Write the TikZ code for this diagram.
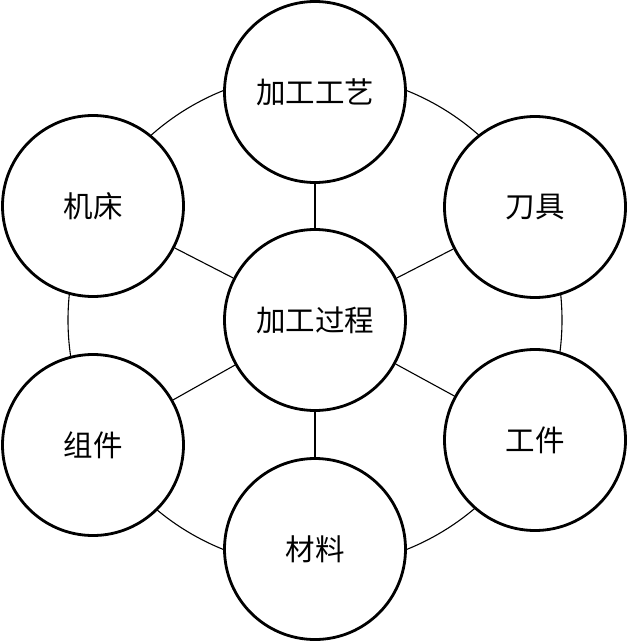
\documentclass[tikz,border=0pt]{standalone}
\usepackage{fontspec}
\newfontfamily\cjk{Noto Sans CJK SC}
\begin{document}
\begin{tikzpicture}[x=1pt,y=-1pt,
  ball/.style={circle,draw,line width=2.8pt,fill=white,minimum size=181pt,inner sep=0pt,font=\cjk\fontsize{29.5pt}{32pt}\selectfont},
  thin/.style={line width=1.1pt}]
\useasboundingbox (0,0) rectangle (627,642);
\coordinate (o) at (315,320);
\draw[thin] (o) circle[radius=247];
\node[ball] (c) at (315,320) {加工过程};
\node[ball] (t) at (315,92) {加工工艺};
\node[ball] (jc) at (93,206) {机床};
\node[ball] (dj) at (535,207) {刀具};
\node[ball] (zj) at (93,445) {组件};
\node[ball] (gj) at (535,440) {工件};
\node[ball] (cl) at (315,549) {材料};
\foreach \n in {t,jc,dj,zj,gj,cl} \draw[thin] (c) -- (\n);
\end{tikzpicture}
\end{document}
